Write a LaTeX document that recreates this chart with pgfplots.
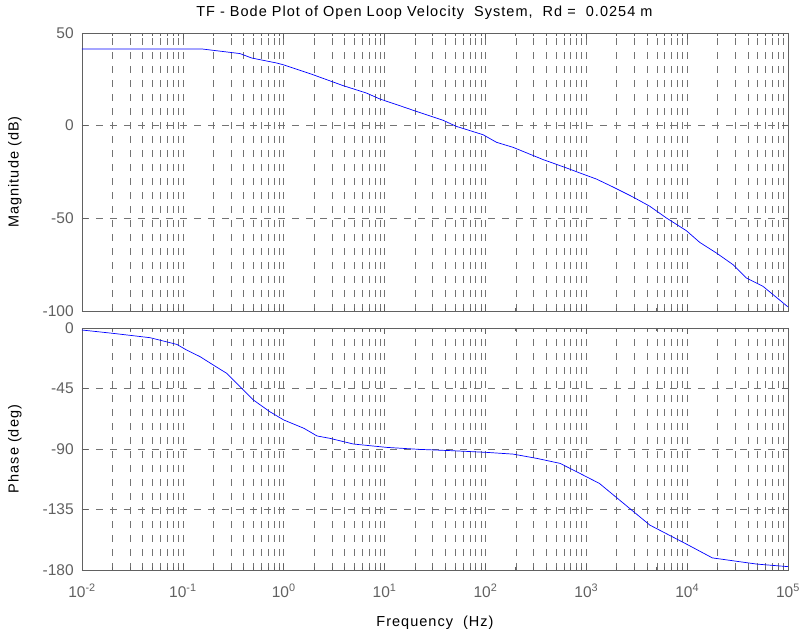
\documentclass[border=0pt]{standalone}
\usepackage{pgfplots}
\pgfplotsset{compat=1.18}
\usepackage{fontspec}
\setmainfont{Liberation Sans}
\definecolor{axgray}{gray}{0.38}
\definecolor{gridgray}{gray}{0.45}
\definecolor{mblue}{rgb}{0,0,1}
\newcommand{\fs}{\fontsize{15.5pt}{18pt}\selectfont}
\newcommand{\fsl}{\fontsize{14.5pt}{17pt}\selectfont\addfontfeature{LetterSpace=7}}
\begin{document}
\fs
\begin{tikzpicture}
\useasboundingbox (0pt,0pt) rectangle (799pt,636pt);
% Magnitude
\begin{axis}[
  scale only axis,
  width=706pt,
  height=278pt,
  at={(82pt,325pt)}, anchor=south west,
  xmode=log,
  xmin=0.01, xmax=100000,
  ymin=-100, ymax=50,
  axis line style={axgray, line width=0.8pt},
  tick style={axgray, line width=0.6pt},
  tick align=inside,
  tick pos=both,
  major tick length=6pt,
  minor tick length=3pt,
  xmajorgrids, xminorgrids, ymajorgrids,
  major grid style={gridgray, line width=0.55pt, dash pattern=on 7pt off 7pt},
  minor grid style={gridgray, line width=0.55pt, dash pattern=on 7pt off 7pt},
  tick label style={text=axgray, font=\fs},
  /pgf/number format/assume math mode=true,
  xtick={0.01,0.1,1,10,100,1000,10000,100000},
  minor xtick={0.02,0.03,0.04,0.05,0.06,0.07,0.08,0.09,0.2,0.3,0.4,0.5,0.6,0.7,0.8,0.9,2,3,4,5,6,7,8,9,20,30,40,50,60,70,80,90,200,300,400,500,600,700,800,900,2000,3000,4000,5000,6000,7000,8000,9000,20000,30000,40000,50000,60000,70000,80000,90000},
  ytick={-100,-50,0,50},
  yticklabels={-100,-50,0,50},
  yticklabel style={xshift=-3pt},
  xticklabels={},
  ylabel={Magnitude (dB)},
  ylabel style={at={(axis description cs:-0.095,0.5)}, anchor=center, font=\fsl},
  title={TF - Bode Plot of Open Loop Velocity\ \ System,\ \ Rd =\ \ 0.0254 m},
  title style={at={(axis description cs:0.485,1)}, yshift=2pt, anchor=south, font=\fsl},
]
\addplot[mblue, line width=0.7pt] coordinates {
(0.01,41.4) (0.0935,41.4) (0.1535,41.4) (0.368,38.9) (0.481,36.5)
(0.851,33.8) (1,32.8) (1.95,27.5) (3.88,21.6) (6.61,17.6) (8.97,14.4)
(14.1,10.8) (19.2,8.3) (38.0,2.9) (51.6,-0.4) (94.8,-4.9) (129,-9.0)
(188,-11.7) (373,-18.3) (635,-22.8) (861,-25.5) (1259,-28.8) (1841,-33.1)
(2904,-38.5) (4266,-43.5) (6223,-49.8) (9840,-56.7) (13340,-63.0)
(19500,-68.7) (28510,-75.0) (38640,-82.2) (56490,-86.7) (100000,-97.8)
};
\end{axis}
% Phase
\begin{axis}[
  scale only axis,
  width=706pt,
  height=242pt,
  at={(82pt,66pt)}, anchor=south west,
  xmode=log,
  xmin=0.01, xmax=100000,
  ymin=-180, ymax=0,
  axis line style={axgray, line width=0.8pt},
  tick style={axgray, line width=0.6pt},
  tick align=inside,
  tick pos=both,
  major tick length=6pt,
  minor tick length=3pt,
  xmajorgrids, xminorgrids, ymajorgrids,
  major grid style={gridgray, line width=0.55pt, dash pattern=on 7pt off 7pt},
  minor grid style={gridgray, line width=0.55pt, dash pattern=on 7pt off 7pt},
  tick label style={text=axgray, font=\fs},
  /pgf/number format/assume math mode=true,
  xtick={0.01,0.1,1,10,100,1000,10000,100000},
  minor xtick={0.02,0.03,0.04,0.05,0.06,0.07,0.08,0.09,0.2,0.3,0.4,0.5,0.6,0.7,0.8,0.9,2,3,4,5,6,7,8,9,20,30,40,50,60,70,80,90,200,300,400,500,600,700,800,900,2000,3000,4000,5000,6000,7000,8000,9000,20000,30000,40000,50000,60000,70000,80000,90000},
  ytick={-180,-135,-90,-45,0},
  yticklabels={-180,-135,-90,-45,0},
  yticklabel style={xshift=-3pt},
  xticklabels={10\textsuperscript{-2},10\textsuperscript{-1},10\textsuperscript{0},10\textsuperscript{1},10\textsuperscript{2},10\textsuperscript{3},10\textsuperscript{4},10\textsuperscript{5}},
  xticklabel style={yshift=-9pt},
  ylabel={Phase (deg)},
  ylabel style={at={(axis description cs:-0.095,0.5)}, anchor=center, font=\fsl},
  xlabel={Frequency\ \ (Hz)},
  xlabel style={at={(axis description cs:0.5,0)}, yshift=-53pt, anchor=center, font=\fsl},
]
\addplot[mblue, line width=0.7pt] coordinates {
(0.01,-1.5) (0.0204,-4) (0.0472,-7.2) (0.0871,-12.2) (0.109,-16.4)
(0.148,-21.3) (0.2,-27.5) (0.272,-33.7) (0.368,-43.6) (0.501,-53.6)
(0.73,-62.3) (1,-68.4) (1.585,-74.6) (2.14,-80.3) (2.88,-82.1)
(4.9,-86.3) (10.5,-88.8) (22.4,-90.3) (47.9,-91.3) (102,-92.5)
(188,-93.8) (324,-97.0) (550,-100.7) (861,-108.1) (1349,-115.6)
(2138,-128) (4266,-146.6) (10000,-161) (17780,-171) (49000,-175.6)
(100000,-177.5)
};
\end{axis}
\end{tikzpicture}
\end{document}
